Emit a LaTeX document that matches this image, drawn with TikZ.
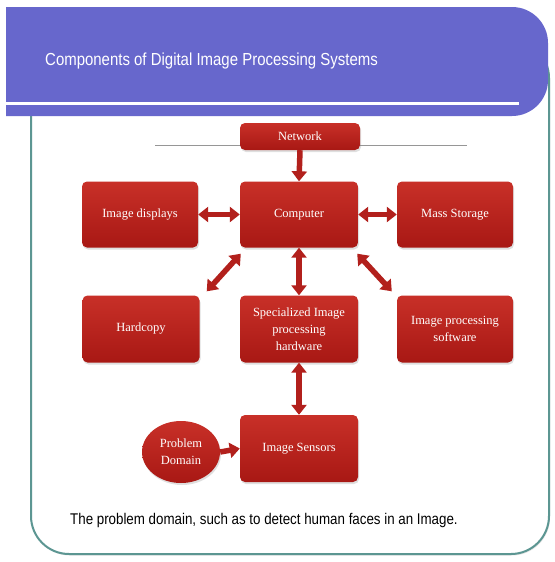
\documentclass[tikz,border=0pt]{standalone}
\usepackage{fontspec}
\setmainfont{Liberation Serif}
\newfontfamily\narrowsans[FakeStretch=0.86]{Liberation Sans}
\usetikzlibrary{arrows.meta,shadows,shapes.geometric}
\definecolor{bannerblue}{RGB}{103,103,204}
\definecolor{frameteal}{RGB}{92,150,146}
\definecolor{boxtop}{RGB}{200,48,40}
\definecolor{boxbot}{RGB}{168,24,20}
\definecolor{arrowred}{RGB}{178,32,28}
\definecolor{netline}{RGB}{150,150,150}
\tikzset{
  redbox/.style={rounded corners=5pt, top color=boxtop, bottom color=boxbot, draw=none,
    drop shadow={shadow xshift=1pt, shadow yshift=-2pt, opacity=0.25},
    text=white, font=\fontsize{12.5}{17}\selectfont, align=center, inner sep=0pt},
  blockarrow/.style={draw=arrowred, line width=5.5pt, -{Triangle[width=15pt,length=10pt]}},
  dblarrow/.style={draw=arrowred, line width=5.5pt, {Triangle[width=15pt,length=10pt]}-{Triangle[width=15pt,length=10pt]}},
}
\begin{document}
\begin{tikzpicture}[x=1pt,y=-1pt]
\useasboundingbox (0,0) rectangle (554,562);
\fill[white] (0,0) rectangle (554,562);
% frame
\draw[frameteal, fill=white, line width=2pt, rounded corners=38pt,
  drop shadow={shadow xshift=1pt, shadow yshift=-1.5pt, opacity=0.2}] (31,40) rectangle (549,554);
% banner
\fill[bannerblue] (6,7) -- (512,7) arc[start angle=90, end angle=0, radius=36pt] -- (548,80)
  arc[start angle=0, end angle=-90, radius=36pt] -- (6,116) -- cycle;
\draw[white, line width=3pt] (6,103) -- (519,103);
\node[anchor=west, text=white, font=\narrowsans\fontsize{17.4}{20}\selectfont, inner sep=0pt] (title) at (45,61) {Components of Digital Image Processing Systems};
% network line
\coordinate (nl) at (155,145);
\coordinate (nr) at (467,145);
\draw[netline, line width=1pt] (nl) -- (nr);
% boxes
\node[redbox, minimum width=120pt, minimum height=27pt] (net) at (300,136.5) {Network};
\node[redbox, minimum width=118pt, minimum height=66pt] (comp) at (299,214.5) {Computer};
\node[redbox, minimum width=116pt, minimum height=66pt] (disp) at (140,214.5) {Image displays};
\node[redbox, minimum width=116pt, minimum height=66pt] (mass) at (455,214.5) {Mass Storage};
\node[redbox, minimum width=117pt, minimum height=67pt] (hard) at (141,329) {Hardcopy};
\node[redbox, minimum width=118pt, minimum height=67pt] (spec) at (299,329) {Specialized Image\\processing\\hardware};
\node[redbox, minimum width=116pt, minimum height=67pt] (soft) at (455,329) {Image processing\\software};
\node[redbox, minimum width=118pt, minimum height=67pt] (sens) at (299,448.5) {Image Sensors};
\node[ellipse, top color=boxtop, bottom color=boxbot, draw=none, minimum width=78pt, minimum height=62pt,
  inner sep=0pt, text=white, font=\fontsize{12.5}{17}\selectfont, align=center,
  drop shadow={shadow xshift=1pt, shadow yshift=-2pt, opacity=0.25}] (prob) at (181,452) {Problem\\Domain};
% arrows
\draw[blockarrow] (net.south) -- (comp.north);
\draw[dblarrow] (disp.east) -- (comp.west);
\draw[dblarrow] (comp.east) -- (mass.west);
\draw[dblarrow] ([xshift=1pt,yshift=-6pt]comp.south west) -- ([xshift=7pt,yshift=4pt]hard.north east);
\draw[dblarrow] ([xshift=-1pt,yshift=-6pt]comp.south east) -- ([xshift=-5pt,yshift=4pt]soft.north west);
\draw[dblarrow] (comp.south) -- (spec.north);
\draw[dblarrow] (spec.south) -- (sens.north);
\draw[blockarrow] (prob.east) -- (sens.west);
% caption
\node[anchor=west, font=\narrowsans\fontsize{15.5}{18}\selectfont, inner sep=0pt] (cap) at (70,520) {The problem domain, such as to detect human faces in an Image.};
\end{tikzpicture}
\end{document}
